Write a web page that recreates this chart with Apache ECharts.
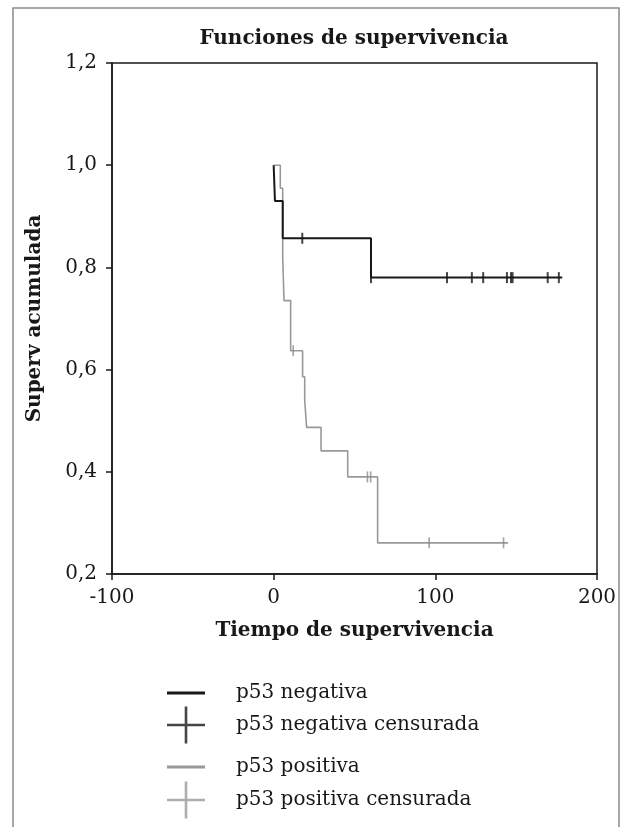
<!DOCTYPE html>
<html>
<head>
<meta charset="utf-8">
<script src="https://cdn.jsdelivr.net/npm/echarts@6/dist/echarts.min.js"></script>
<style>
  html, body { margin: 0; padding: 0; background: #fff; }
  #chart { width: 624px; height: 827px; }
</style>
</head>
<body>
<div id="chart"></div>
<script>
// p53 negativa: step curve (time, cumulative survival)
const negTimes = [0, 0.8, 5.6, 60.2, 178.5];
const negSurv = [1.0, 0.93, 0.857, 0.78, 0.78];
const negCensorTimes = [17.7, 60.2, 107.2, 122.6, 129.6, 144.3, 146.8, 147.8, 169.5, 176.4];
const negCensorSurv = [0.857, 0.78, 0.78, 0.78, 0.78, 0.78, 0.78, 0.78, 0.78, 0.78];

// p53 positiva
const posTimes = [0, 4.1, 5.6, 6.4, 10.5, 17.9, 19.2, 20.4, 29.3, 45.8, 64.3, 145];
const posSurv = [1.0, 0.955, 0.82, 0.735, 0.637, 0.586, 0.539, 0.487, 0.441, 0.39, 0.261, 0.261];
const posCensorTimes = [12.1, 58, 60, 96.2, 142.2];
const posCensorSurv = [0.637, 0.39, 0.39, 0.261, 0.261];

const xTickLabels = ["-100", "0", "100", "200"];
const yTickLabels = ["0,2", "0,4", "0,6", "0,8", "1,0", "1,2"];

const legendNames = [
  "p53 negativa",
  "p53 negativa censurada",
  "p53 positiva",
  "p53 positiva censurada",
];

const BLACK = "#1a1718";
const GRAY = "#999999";
const FONT = "DejaVu Serif";

const zip = (xs, ys) => xs.map((x, i) => [x, ys[i]]);

const crossIcon = "path://M0,17.2H38V19.8H0Z M17.7,0H20.3V37H17.7Z";
const tickSymbol = "path://M0,0H1V10H0Z";

function makeLegend(name, top, color, isCross) {
  return {
    data: [{ name, icon: isCross ? crossIcon : "rect", itemStyle: { color } }],
    left: 167,
    top,
    padding: 0,
    itemWidth: 38,
    itemHeight: isCross ? 37 : 3,
    selectedMode: false,
    textStyle: {
      fontFamily: FONT,
      fontSize: 20,
      color: BLACK,
      padding: [0, 0, 0, 26],
    },
  };
}

const chart = echarts.init(document.getElementById("chart"), null, { renderer: "canvas" });

chart.setOption({
  animation: false,
  backgroundColor: "#fff",
  title: {
    text: "Funciones de supervivencia",
    left: 354,
    textAlign: "center",
    top: 29,
    padding: 0,
    textStyle: { fontFamily: FONT, fontSize: 20, fontWeight: "bold", color: BLACK },
  },
  graphic: [
    {
      type: "rect",
      shape: { x: 13, y: 8, width: 606, height: 900 },
      style: { fill: "none", stroke: "#8a8a8a", lineWidth: 1.5 },
      silent: true,
    },
  ],
  legend: [
    makeLegend(legendNames[0], 683, BLACK, false),
    makeLegend(legendNames[1], 706.5, BLACK, true),
    makeLegend(legendNames[2], 757, GRAY, false),
    makeLegend(legendNames[3], 781.5, GRAY, true),
  ],
  grid: {
    left: 112,
    top: 63,
    right: 27,
    bottom: 253,
    show: true,
    borderColor: BLACK,
    borderWidth: 1.5,
    backgroundColor: "transparent",
  },
  xAxis: {
    type: "value",
    min: -100,
    max: 200,
    interval: 100,
    name: "Tiempo de supervivencia",
    nameLocation: "middle",
    nameGap: 47,
    nameTextStyle: { fontFamily: FONT, fontSize: 20, fontWeight: "bold", color: BLACK },
    axisLine: { show: true, onZero: false, lineStyle: { color: BLACK, width: 1.5 } },
    axisTick: { show: true, inside: false, length: 6, lineStyle: { color: BLACK, width: 1.5 } },
    axisLabel: {
      fontFamily: FONT,
      fontSize: 20,
      color: BLACK,
      margin: 14,
      formatter: (v) => xTickLabels[Math.round((v + 100) / 100)] ?? "",
    },
    splitLine: { show: false },
  },
  yAxis: {
    type: "value",
    min: 0.2,
    max: 1.2,
    interval: 0.2,
    name: "Superv acumulada",
    nameLocation: "middle",
    nameGap: 67,
    nameTextStyle: { fontFamily: FONT, fontSize: 20, fontWeight: "bold", color: BLACK },
    axisLine: { show: true, onZero: false, lineStyle: { color: BLACK, width: 1.5 } },
    axisTick: { show: true, inside: false, length: 6, lineStyle: { color: BLACK, width: 1.5 } },
    axisLabel: {
      fontFamily: FONT,
      fontSize: 20,
      color: BLACK,
      margin: 15,
      formatter: (v) => yTickLabels[Math.round((v - 0.2) / 0.2)] ?? "",
    },
    splitLine: { show: false },
  },
  series: [
    {
      name: legendNames[2],
      type: "line",
      step: "end",
      showSymbol: false,
      symbol: "none",
      lineStyle: { color: GRAY, width: 1.6 },
      itemStyle: { color: GRAY },
      data: zip(posTimes, posSurv),
      z: 2,
    },
    {
      name: legendNames[3],
      type: "scatter",
      symbol: tickSymbol,
      symbolSize: [1.6, 11],
      itemStyle: { color: "#8c8c8c" },
      data: zip(posCensorTimes, posCensorSurv),
      z: 3,
    },
    {
      name: legendNames[0],
      type: "line",
      step: "end",
      showSymbol: false,
      symbol: "none",
      lineStyle: { color: BLACK, width: 2 },
      itemStyle: { color: BLACK },
      data: zip(negTimes, negSurv),
      z: 4,
    },
    {
      name: legendNames[1],
      type: "scatter",
      symbol: tickSymbol,
      symbolSize: [2, 11],
      itemStyle: { color: BLACK },
      data: zip(negCensorTimes, negCensorSurv),
      z: 5,
    },
  ],
});
</script>
</body>
</html>
